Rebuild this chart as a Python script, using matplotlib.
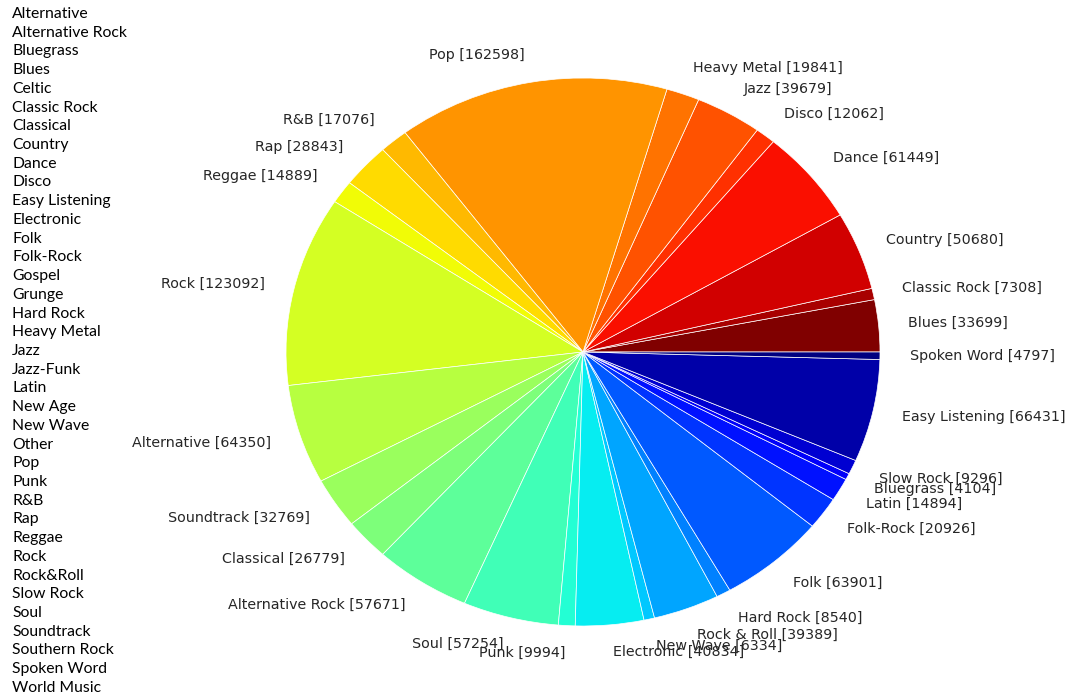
import numpy as np
import matplotlib
matplotlib.use("Agg")
import matplotlib.pyplot as plt

# genre counts, in the order they appear around the pie (counter-clockwise from 0 deg)
genres = ['Blues', 'Classic Rock', 'Country', 'Dance', 'Disco', 'Jazz', 'Heavy Metal',
          'Pop', 'R&B', 'Rap', 'Reggae', 'Rock', 'Alternative', 'Soundtrack', 'Classical',
          'Alternative Rock', 'Soul', 'Punk', 'Electronic', 'New Wave', 'Rock & Roll',
          'Hard Rock', 'Folk', 'Folk-Rock', 'Latin', 'Bluegrass', 'Slow Rock',
          'Easy Listening', 'Spoken Word']
counts = [33699, 7308, 50680, 61449, 12062, 39679, 19841,
          162598, 17076, 28843, 14889, 123092, 64350, 32769, 26779,
          57671, 57254, 9994, 40834, 6334, 39389,
          8540, 63901, 20926, 14894, 4104, 9296,
          66431, 4797]

# full list of genre names shown on the left
all_genres = ['Alternative', 'Alternative Rock', 'Bluegrass', 'Blues', 'Celtic',
              'Classic Rock', 'Classical', 'Country', 'Dance', 'Disco', 'Easy Listening',
              'Electronic', 'Folk', 'Folk-Rock', 'Gospel', 'Grunge', 'Hard Rock',
              'Heavy Metal', 'Jazz', 'Jazz-Funk', 'Latin', 'New Age', 'New Wave', 'Other',
              'Pop', 'Punk', 'R&B', 'Rap', 'Reggae', 'Rock', 'Rock&Roll', 'Slow Rock',
              'Soul', 'Soundtrack', 'Southern Rock', 'Spoken Word', 'World Music']

labels = ['%s [%d]' % (g, c) for g, c in zip(genres, counts)]
colors = plt.cm.jet(np.linspace(1, 0, len(counts)))

W, H = 1071, 695
fig = plt.figure(figsize=(W / 100, H / 100), dpi=100)

# pie axes: centre at (583, 352) px, radii 297 x 274 px
cx, cy, rx, ry = 583, 352, 297, 274
ax = fig.add_axes([(cx - 1.25 * rx) / W, (H - cy - 1.25 * ry) / H,
                   2.5 * rx / W, 2.5 * ry / H])
ax.pie(counts, labels=labels, colors=colors, startangle=0,
       wedgeprops=dict(edgecolor='white', linewidth=0.5),
       textprops=dict(fontsize=10.3, color='#262626', family='DejaVu Sans'))
ax.set_aspect('auto')
ax.set_xlim(-1.25, 1.25)
ax.set_ylim(-1.25, 1.25)

# genre list down the left side
for i, g in enumerate(all_genres):
    fig.text(12 / W, 1 - (18 + 18.72 * i) / H, g, fontsize=11.3,
             family='Lato', va='baseline', ha='left', color='black')

fig.savefig('out.png', dpi=100)
